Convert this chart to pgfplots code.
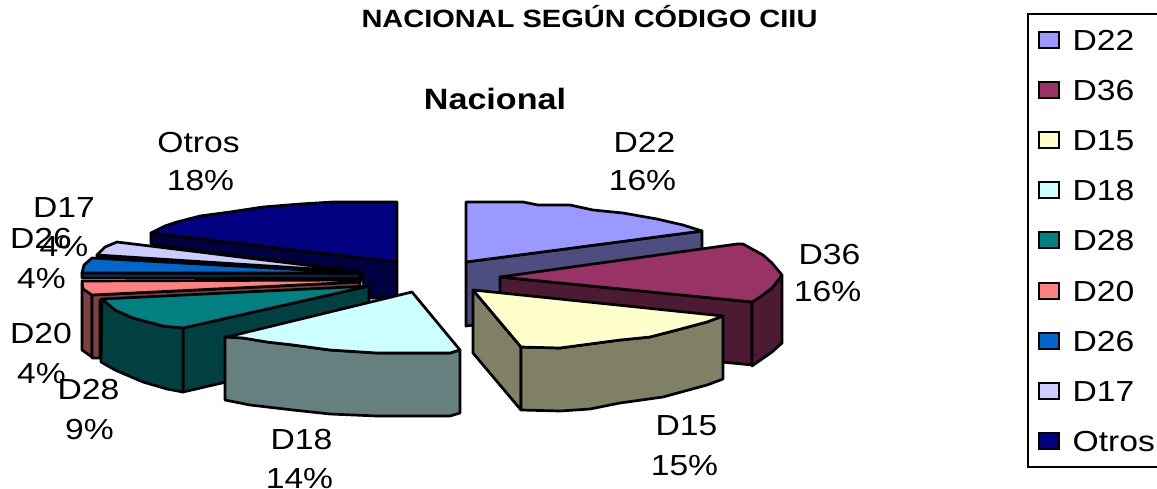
\documentclass[border=0pt]{standalone}
\usepackage{fontspec}
\setmainfont{Liberation Sans}[FakeStretch=1.16]
\usepackage{pgfplots}
\pgfplotsset{compat=1.18}

\definecolor{cD22}{HTML}{9999FF}\definecolor{sD22}{HTML}{4D4D80}
\definecolor{cD36}{HTML}{993366}\definecolor{sD36}{HTML}{4D1A33}
\definecolor{cD15}{HTML}{FFFFCC}\definecolor{sD15}{HTML}{808066}
\definecolor{cD18}{HTML}{CCFFFF}\definecolor{sD18}{HTML}{668080}
\definecolor{cD28}{HTML}{008080}\definecolor{sD28}{HTML}{004040}
\definecolor{cD20}{HTML}{FF8080}\definecolor{sD20}{HTML}{804040}
\definecolor{cD26}{HTML}{0066CC}\definecolor{sD26}{HTML}{003366}
\definecolor{cD17}{HTML}{CCCCFF}\definecolor{sD17}{HTML}{666680}
\definecolor{cOtros}{HTML}{000080}\definecolor{sOtros}{HTML}{000040}

\pgfplotsset{
  face/.style={draw=black, line width=2.7pt, line join=round, forget plot, fill=#1},
  swatch/.style={legend image code/.code={
    \draw[fill=#1, draw=black, line width=2pt] (0pt,-8pt) rectangle (20pt,8pt);}},
}
\newcommand{\lbl}[3]{\node[anchor=base, inner sep=0pt] at (axis cs:#1,#2) {#3};}

\begin{document}
\begin{tikzpicture}
\useasboundingbox (0,0) rectangle (1157pt,488pt);
\begin{axis}[
    at={(0,0)}, anchor=south west,
    scale only axis, width=1157pt, height=488pt,
    xmin=0, xmax=1157, ymin=0, ymax=488,
    y dir=reverse,
    hide axis, clip=false,
    font=\fontsize{29}{29}\selectfont,
    legend cell align=left,
    legend style={
      at={(axis cs:1027,13)}, anchor=north west,
      draw=black, line width=2.2pt, fill=white,
      inner xsep=9.5pt, inner ysep=15pt,
      font=\fontsize{29}{29}\selectfont,
      nodes={inner sep=0pt, text height=21pt, text depth=0pt, anchor=west},
      row sep=29.2pt,
      column sep=13pt,
    },
]
\addlegendimage{swatch=cD22}\addlegendentry{D22}
\addlegendimage{swatch=cD36}\addlegendentry{D36}
\addlegendimage{swatch=cD15}\addlegendentry{D15}
\addlegendimage{swatch=cD18}\addlegendentry{D18}
\addlegendimage{swatch=cD28}\addlegendentry{D28}
\addlegendimage{swatch=cD20}\addlegendentry{D20}
\addlegendimage{swatch=cD26}\addlegendentry{D26}
\addlegendimage{swatch=cD17}\addlegendentry{D17}
\addlegendimage{swatch=cOtros}\addlegendentry{Otros}

% Otros
\addplot[face=sOtros] coordinates {(151,233)(397,262)(397,298)(368,298)(360,272)(151,244)} --cycle;
\addplot[face=cOtros] coordinates {(151,233)(165,226)(177,222)(200,216)(230,212)(263,207)(300,204)(333,202)(397,202)(397,262)} --cycle;

% D22
\addplot[face=sD22] coordinates {(466,262)(702,231)(702,294)(466,326)} --cycle;
\addplot[face=cD22] coordinates {(466,202)(523,202)(538,205)(570,205)(593,210)(623,213)(657,219)(683,225)(702,231)(466,262)} --cycle;

% D17
\addplot[face=sD17] coordinates {(97,255)(362,272)(362,275)(97,257)} --cycle;
\addplot[face=cD17] coordinates {(97,255)(105,247)(117,242)(150,246)(362,272)} --cycle;

% D26
\addplot[face=sD26] coordinates {(82,273)(360,274)(360,278)(82,278)} --cycle;
\addplot[face=cD26] coordinates {(82,273)(84,265)(92,258)(360,273)} --cycle;

% D20
\addplot[face=sD20] coordinates {(82,283)(92,295)(92,357)(82,350)} --cycle;
\addplot[face=sD20] coordinates {(92,295)(360,282)(360,287)(100,300)(100,358)(92,358)} --cycle;
\addplot[face=cD20] coordinates {(82,281)(360,280)(360,282)(92,295)(83,289)} --cycle;

% D28
\addplot[face=sD28] coordinates {(183,328)(369,286)(369,349)(183,392)} --cycle;
\addplot[face=sD28] coordinates {(102,299)(115,310)(133,318)(163,326)(183,328)(183,392)(167,389)(143,382)(115,370)(101,362)} --cycle;
\addplot[face=cD28] coordinates {(102,299)(369,286)(183,328)(163,326)(133,318)(115,310)} --cycle;

% D36
\addplot[face=sD36] coordinates {(500,277)(752,302)(752,365)(500,340)} --cycle;
\addplot[face=sD36] coordinates {(752,302)(760,297)(772,288)(782,275)(782,343)(772,352)(752,366)} --cycle;
\addplot[face=cD36] coordinates {(500,277)(737,244)(743,244)(763,255)(772,263)(782,275)(772,288)(760,297)(752,302)} --cycle;

% D15
\addplot[face=sD15] coordinates {(473,290)(521,347)(521,410)(473,353)} --cycle;
\addplot[face=sD15] coordinates {(521,347)(560,348)(590,344)(620,340)(650,337)(677,330)(707,322)(723,316)(723,379)(707,385)(663,397)(620,403)(590,409)(560,411)(521,410)} --cycle;
\addplot[face=cD15] coordinates {(473,290)(723,316)(707,322)(677,330)(650,337)(620,340)(590,344)(560,348)(521,347)} --cycle;

% D18
\addplot[face=sD18] coordinates {(225,337)(243,338)(267,342)(293,345)(330,350)(377,353)(450,353)(460,350)(460,413)(450,416)(377,416)(330,414)(293,410)(250,405)(225,400)} --cycle;
\addplot[face=cD18] coordinates {(227,337)(412,292)(460,350)(450,353)(377,353)(330,350)(293,345)(267,342)(243,338)} --cycle;

% titles
\lbl{589.5}{27.5}{\fontsize{25}{25}\selectfont\bfseries NACIONAL SEGÚN CÓDIGO CIIU}
\lbl{495}{109}{\fontsize{29.4}{29.4}\selectfont\bfseries Nacional}

% data labels
\lbl{198.5}{152}{Otros}\lbl{200.5}{190}{18\%}
\lbl{644.5}{152}{D22}\lbl{642.5}{190}{16\%}
\lbl{829.5}{264}{D36}\lbl{827.5}{301}{16\%}
\lbl{686.5}{435}{D15}\lbl{684.5}{475}{15\%}
\lbl{301.5}{449}{D18}\lbl{299.5}{488}{14\%}
\lbl{88.5}{399}{D28}\lbl{89.5}{439}{9\%}
\lbl{41}{343}{D20}\lbl{41.5}{383}{4\%}
\lbl{41}{248}{D26}\lbl{41.5}{288}{4\%}
\lbl{64}{217}{D17}\lbl{64}{256}{4\%}
\end{axis}
\end{tikzpicture}
\end{document}
